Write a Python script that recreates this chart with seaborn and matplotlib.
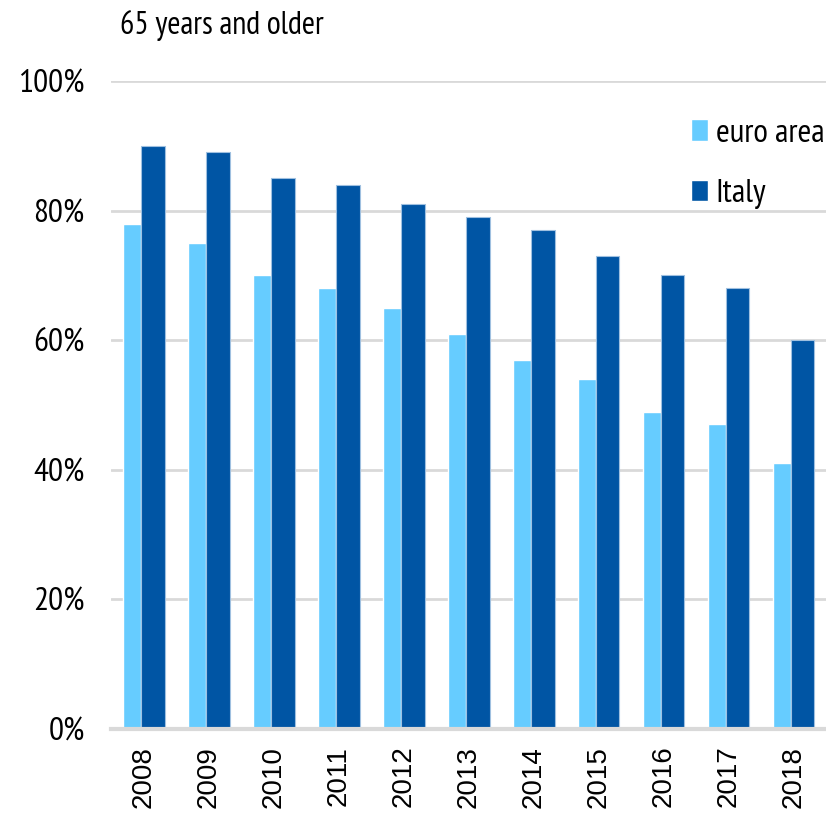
import matplotlib
matplotlib.use("Agg")
import matplotlib.pyplot as plt
import matplotlib.font_manager as fm
import seaborn as sns
import pandas as pd
from matplotlib.ticker import PercentFormatter

years = ["2008", "2009", "2010", "2011", "2012", "2013", "2014", "2015", "2016", "2017", "2018"]
euro_area = [78, 75, 70, 68, 65, 61, 57, 54, 49, 47, 41]
italy = [90, 89, 85, 84, 81, 79, 77, 73, 70, 68, 60]
series_names = ["euro area", "Italy"]
title_text = "65 years and older"

df = pd.DataFrame({
    "year": years * 2,
    "value": euro_area + italy,
    "series": [series_names[0]] * len(years) + [series_names[1]] * len(years),
})

sns.set_style("white")

available = {f.name for f in fm.fontManager.ttflist}
def pick(prefs):
    for p in prefs:
        if p in available:
            return p
    return "DejaVu Sans"

narrow = pick(["PT Sans Narrow", "Fira Sans Condensed", "Roboto Condensed",
               "Archivo Narrow", "Liberation Sans"])
arial = pick(["Liberation Sans", "Arimo", "DejaVu Sans"])
plt.rcParams["font.family"] = [narrow, "DejaVu Sans"]
plt.rcParams["text.color"] = "black"

fig = plt.figure(figsize=(8.26, 8.16), dpi=100)
ax = fig.add_axes([0.1344, 0.1066, 0.8656, 0.7941])

colors = {"euro area": "#66CCFF", "Italy": "#0055A4"}
sns.barplot(data=df, x="year", y="value", hue="series", hue_order=series_names,
            palette=colors, width=0.646, dodge=True, ax=ax, saturation=1,
            legend=True, errorbar=None, zorder=3)

# light bars slightly narrower, dark bars slightly wider (Excel-like overlap)
shift = 0.031
n = len(years)
for i, p in enumerate(ax.patches[:2 * n]):
    if i < n:
        p.set_width(p.get_width() - shift)
    else:
        p.set_x(p.get_x() - shift)
        p.set_width(p.get_width() + shift)
        p.set_edgecolor("#9fc0e0")
        p.set_linewidth(0.8)

ax.set_xlim(-0.5, len(years) - 0.5)
ax.set_ylim(0, 100)
ax.set_yticks([0, 20, 40, 60, 80, 100])
ax.yaxis.set_major_formatter(PercentFormatter(decimals=0))
ax.grid(axis="y", color="#D9D9D9", linewidth=2, zorder=0)
ax.set_axisbelow(True)
for s in ["top", "right", "left"]:
    ax.spines[s].set_visible(False)
ax.spines["bottom"].set_color("#D9D9D9")
ax.spines["bottom"].set_linewidth(3)
ax.spines["bottom"].set_zorder(4)

ax.set_xlabel("")
ax.set_ylabel("")
ax.tick_params(axis="y", length=0, pad=19, labelsize=24, labelcolor="black")
ax.tick_params(axis="x", length=0, pad=12, labelrotation=90, labelcolor="black")
for lbl in ax.get_xticklabels():
    lbl.set_fontfamily([arial, "DejaVu Sans"])
    lbl.set_fontsize(20)

handles, labels = ax.get_legend_handles_labels()
leg = ax.legend(handles, labels, loc="upper left", bbox_to_anchor=(0.811, 0.942),
                frameon=False, fontsize=24, handlelength=0.5, handleheight=0.62,
                handletextpad=0.25, labelspacing=0.92, borderpad=0,
                borderaxespad=0)

fig.text(120 / 826, 1 - 26 / 816, title_text, fontsize=23, ha="left", va="center",
         color="black")

fig.savefig("out.png", dpi=100)
